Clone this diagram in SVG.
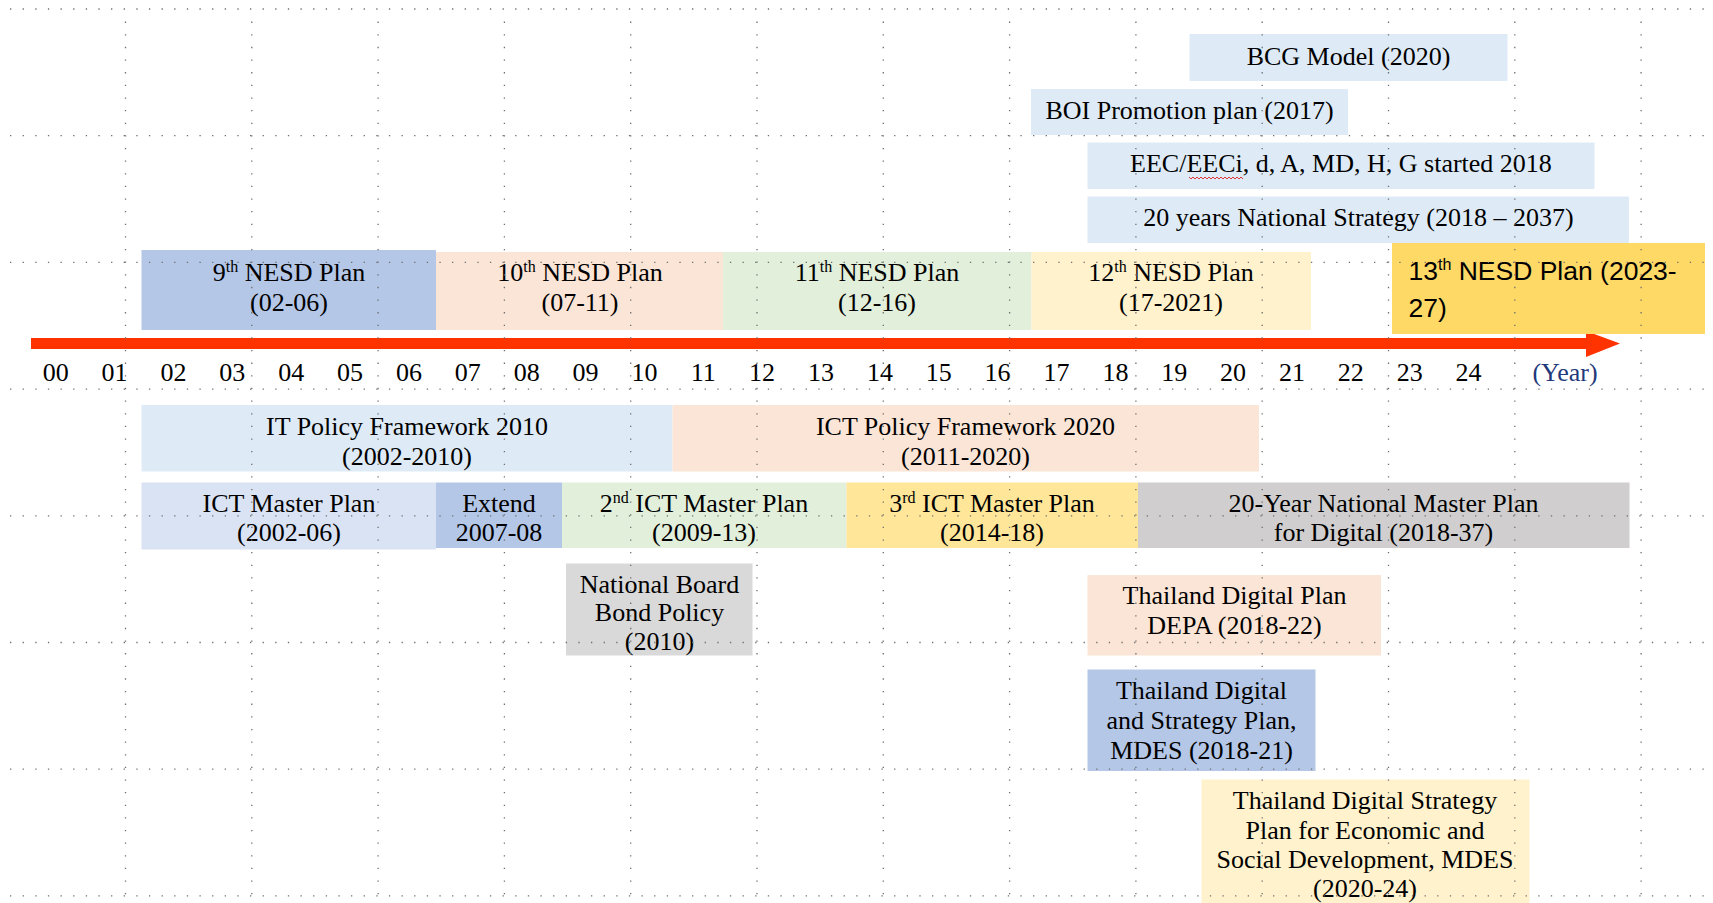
<svg xmlns="http://www.w3.org/2000/svg" width="1713" height="903" viewBox="0 0 1713 903">
  <style>
    .t { font-family: "Liberation Serif", "Times New Roman", serif; font-size: 26px; fill: #000; text-anchor: middle; }
    .sup { font-size: 16px; }
    .yr { font-family: "Liberation Serif", "Times New Roman", serif; font-size: 26px; fill: #000; text-anchor: middle; }
    .grid { stroke: #6f6f6f; stroke-width: 1.3; stroke-dasharray: 1.3 11.33; fill: none; }
    .lblue { fill: #DEEBF7; }
    .blue { fill: #B4C7E7; }
    .pblue { fill: #DAE3F3; }
    .peach { fill: #FBE5D6; }
    .green { fill: #E2EFDA; }
    .cream { fill: #FFF2CC; }
    .gold { fill: #FFE699; }
    .gray { fill: #D9D9D9; }
    .dgray { fill: #D0CECE; }
  </style>
  <rect width="1713" height="903" fill="#fff"/>

  <!-- upper strategy bars -->
  <g id="bcg"><rect class="lblue" x="1189.5" y="34" width="318" height="47"/><text class="t" x="1348.5" y="64.5">BCG Model (2020)</text></g>
  <g id="boi"><rect class="lblue" x="1031" y="89" width="317" height="46"/><text class="t" x="1189.5" y="118.5">BOI Promotion plan (2017)</text></g>
  <g id="eec"><rect class="lblue" x="1087.5" y="142.5" width="507" height="46.5"/><text class="t" x="1341" y="172">EEC/EECi, d, A, MD, H, G started 2018</text>
    <path d="M1189 177 l2 2 l2 -2 l2 2 l2 -2 l2 2 l2 -2 l2 2 l2 -2 l2 2 l2 -2 l2 2 l2 -2 l2 2 l2 -2 l2 2 l2 -2 l2 2 l2 -2 l2 2 l2 -2 l2 2 l2 -2 l2 2 l2 -2 l2 2 l2 -2 l2 2" fill="none" stroke="#e02020" stroke-width="0.9"/></g>
  <g id="strategy20"><rect class="lblue" x="1087.5" y="196.5" width="541.5" height="46.5"/><text class="t" x="1358.5" y="226">20 years National Strategy (2018 – 2037)</text></g>

  <!-- NESD plans -->
  <g id="nesd9"><rect class="blue" x="141.5" y="250" width="294.5" height="80"/>
    <text class="t" x="289" y="281">9<tspan class="sup" dy="-9">th</tspan><tspan dy="9"> NESD Plan</tspan></text>
    <text class="t" x="289" y="311">(02-06)</text></g>
  <g id="nesd10"><rect class="peach" x="436" y="252" width="287" height="78"/>
    <text class="t" x="580" y="281">10<tspan class="sup" dy="-9">th</tspan><tspan dy="9"> NESD Plan</tspan></text>
    <text class="t" x="580" y="311">(07-11)</text></g>
  <g id="nesd11"><rect class="green" x="723" y="252" width="308.5" height="78"/>
    <text class="t" x="877" y="281">11<tspan class="sup" dy="-9">th</tspan><tspan dy="9"> NESD Plan</tspan></text>
    <text class="t" x="877" y="311">(12-16)</text></g>
  <g id="nesd12"><rect class="cream" x="1031.5" y="252" width="279.5" height="78"/>
    <text class="t" x="1171" y="281">12<tspan class="sup" dy="-9">th</tspan><tspan dy="9"> NESD Plan</tspan></text>
    <text class="t" x="1171" y="311">(17-2021)</text></g>

  <!-- timeline arrow -->
  <g id="timeline">
    <rect x="31" y="338" width="1556" height="11" fill="#FF3300"/>
    <polygon points="1586,331 1620,343.5 1586,357" fill="#FF3300"/>
  </g>

  <g id="nesd13"><rect x="1392" y="243" width="313" height="91" fill="#FFD966"/>
    <text x="1408.5" y="280" font-family="'Liberation Sans', Arial, sans-serif" font-size="26.5" fill="#000">13<tspan font-size="16" dy="-10">th</tspan><tspan dy="10"> NESD Plan (2023-</tspan></text>
    <text x="1408.5" y="316.5" font-family="'Liberation Sans', Arial, sans-serif" font-size="26.5" fill="#000">27)</text></g>

  <!-- year scale -->
  <g id="years">
    <text class="yr" x="55.7" y="381">00</text>
    <text class="yr" x="114.6" y="381">01</text>
    <text class="yr" x="173.4" y="381">02</text>
    <text class="yr" x="232.3" y="381">03</text>
    <text class="yr" x="291.2" y="381">04</text>
    <text class="yr" x="350" y="381">05</text>
    <text class="yr" x="408.9" y="381">06</text>
    <text class="yr" x="467.8" y="381">07</text>
    <text class="yr" x="526.7" y="381">08</text>
    <text class="yr" x="585.5" y="381">09</text>
    <text class="yr" x="644.4" y="381">10</text>
    <text class="yr" x="703.3" y="381">11</text>
    <text class="yr" x="762.1" y="381">12</text>
    <text class="yr" x="821" y="381">13</text>
    <text class="yr" x="879.9" y="381">14</text>
    <text class="yr" x="938.7" y="381">15</text>
    <text class="yr" x="997.6" y="381">16</text>
    <text class="yr" x="1056.5" y="381">17</text>
    <text class="yr" x="1115.4" y="381">18</text>
    <text class="yr" x="1174.2" y="381">19</text>
    <text class="yr" x="1233.1" y="381">20</text>
    <text class="yr" x="1292" y="381">21</text>
    <text class="yr" x="1350.8" y="381">22</text>
    <text class="yr" x="1409.7" y="381">23</text>
    <text class="yr" x="1468.6" y="381">24</text>
    <text class="yr" x="1565" y="381" fill="#1F3A7A" style="fill:#1F3A7A">(Year)</text>
  </g>

  <!-- ICT policy frameworks -->
  <g id="itpf2010"><rect class="lblue" x="141.5" y="405" width="531" height="66.5"/>
    <text class="t" x="407" y="435">IT Policy Framework 2010</text>
    <text class="t" x="407" y="464.5">(2002-2010)</text></g>
  <g id="ictpf2020"><rect class="peach" x="672.5" y="405" width="586.5" height="66.5"/>
    <text class="t" x="965.5" y="435">ICT Policy Framework 2020</text>
    <text class="t" x="965.5" y="464.5">(2011-2020)</text></g>

  <!-- master plans -->
  <g id="ictmp1"><rect class="pblue" x="141.5" y="482.5" width="294.5" height="67"/>
    <text class="t" x="289" y="511.5">ICT Master Plan</text>
    <text class="t" x="289" y="541">(2002-06)</text></g>
  <g id="extend"><rect class="blue" x="436" y="482.5" width="126" height="65.5"/>
    <text class="t" x="499" y="511.5">Extend</text>
    <text class="t" x="499" y="541">2007-08</text></g>
  <g id="ictmp2"><rect class="green" x="562" y="482.5" width="284.5" height="65.5"/>
    <text class="t" x="704" y="511.5">2<tspan class="sup" dy="-9">nd</tspan><tspan dy="9"> ICT Master Plan</tspan></text>
    <text class="t" x="704" y="541">(2009-13)</text></g>
  <g id="ictmp3"><rect class="gold" x="846.5" y="482.5" width="291.5" height="65.5"/>
    <text class="t" x="992" y="511.5">3<tspan class="sup" dy="-9">rd</tspan><tspan dy="9"> ICT Master Plan</tspan></text>
    <text class="t" x="992" y="541">(2014-18)</text></g>
  <g id="digital20"><rect class="dgray" x="1138" y="482.5" width="491.5" height="65.5"/>
    <text class="t" x="1383.5" y="511.5">20-Year National Master Plan</text>
    <text class="t" x="1383.5" y="541">for Digital (2018-37)</text></g>

  <!-- related plans -->
  <g id="bond"><rect class="gray" x="566" y="563.5" width="186.5" height="92"/>
    <text class="t" x="659.5" y="592.5">National Board</text>
    <text class="t" x="659.5" y="621">Bond Policy</text>
    <text class="t" x="659.5" y="650">(2010)</text></g>
  <g id="depa"><rect class="peach" x="1087.5" y="575" width="293.5" height="80.5"/>
    <text class="t" x="1234.5" y="604">Thailand Digital Plan</text>
    <text class="t" x="1234.5" y="633.5">DEPA (2018-22)</text></g>
  <g id="mdes1821"><rect class="blue" x="1087.5" y="669.5" width="228" height="101.5"/>
    <text class="t" x="1201.5" y="699">Thailand Digital</text>
    <text class="t" x="1201.5" y="729">and Strategy Plan,</text>
    <text class="t" x="1201.5" y="759">MDES (2018-21)</text></g>
  <g id="mdes2024"><rect class="cream" x="1201.5" y="779.5" width="328" height="123.5"/>
    <text class="t" x="1365" y="808.5">Thailand Digital Strategy</text>
    <text class="t" x="1365" y="838.5">Plan for Economic and</text>
    <text class="t" x="1365" y="868">Social Development, MDES</text>
    <text class="t" x="1365" y="896.5">(2020-24)</text></g>

  <!-- dotted background grid, drawn over the bars -->
  <g id="grid" class="grid">
    <path d="M10 9H1713M10 135.7H1713M10 262.4H1713M10 389.1H1713M10 515.8H1713M10 642.5H1713M10 769.2H1713M10 895.9H1713"/>
    <path d="M125.5 21.6V903M251.8 21.6V903M378.1 21.6V903M504.4 21.6V903M630.7 21.6V903M757 21.6V903M883.3 21.6V903M1009.6 21.6V903M1135.9 21.6V903M1262.2 21.6V903M1388.5 21.6V903M1514.8 21.6V903M1641.1 21.6V903"/>
  </g>
</svg>
